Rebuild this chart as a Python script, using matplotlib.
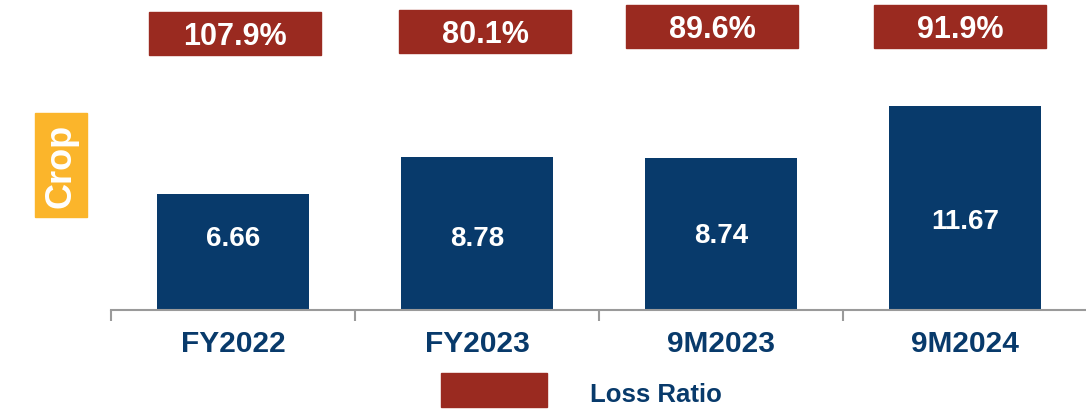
import matplotlib
matplotlib.use("Agg")
import matplotlib.pyplot as plt
from matplotlib.patches import Rectangle

categories = ["FY2022", "FY2023", "9M2023", "9M2024"]
premiums = [6.66, 8.78, 8.74, 11.67]
loss_ratio_labels = ["107.9%", "80.1%", "89.6%", "91.9%"]

NAVY = "#083a6b"
RED = "#9a2a20"
ORANGE = "#fbb52b"
GRAY = "#9a9a9a"

plt.rcParams['font.family'] = ['Liberation Sans', 'DejaVu Sans']

W, H = 1086, 409
fig = plt.figure(figsize=(W / 100, H / 100), dpi=100)
ax = fig.add_axes([111 / W, 99 / H, (1086 - 111) / W, 310 / H])
ax.set_xlim(-0.5, 3.496)
ax.set_ylim(0, 17.77)

# layout tweaks (style, not data)
label_y = [4.05, 4.05, 4.25, 5.03]          # bar value label heights
box_dx = [0.008, 0.033, -0.037, -0.02]       # loss ratio box horizontal offsets
box_bottom = [0.8226, 0.829, 0.845, 0.845]   # loss ratio box bottoms (axes frac)
box_h = 0.1387
box_w = 0.705

x = list(range(len(categories)))
ax.bar(x, premiums, width=0.62, color=NAVY, zorder=2)
for xi, v, ly in zip(x, premiums, label_y):
    ax.text(xi, ly, f"{v:.2f}", ha="center", va="center",
            color="white", fontsize=20, fontweight="bold", zorder=3)

tr = ax.get_xaxis_transform()
for xi, lab, dx, bb in zip(x, loss_ratio_labels, box_dx, box_bottom):
    cx = xi + dx
    ax.add_patch(Rectangle((cx - box_w / 2, bb), box_w, box_h,
                           transform=tr, color=RED, clip_on=False, zorder=3))
    ax.text(cx, bb + box_h / 2 - 0.012, lab, transform=tr, ha="center",
            va="center", color="white", fontsize=22, fontweight="bold", zorder=4)

for s in ["top", "right", "left"]:
    ax.spines[s].set_visible(False)
ax.spines["bottom"].set_color(GRAY)
ax.spines["bottom"].set_linewidth(1.5)
ax.set_yticks([])
ax.set_xticks([-0.5, 0.5, 1.5, 2.5])
ax.set_xticklabels([])
ax.tick_params(axis="x", which="major", length=8, width=1.5, color=GRAY, direction="out")
for xi, c in zip(x, categories):
    ax.text(xi, -0.11, c, transform=tr, ha="center",
            va="center", color=NAVY, fontsize=21.5, fontweight="bold")

# Crop label
fig.patches.append(Rectangle((35 / W, (H - 217) / H), 52 / W, 104 / H,
                             transform=fig.transFigure, color=ORANGE))
fig.text(61 / W, (H - 166) / H, "Crop", rotation=90, ha="center", va="center",
         color="white", fontsize=26, fontweight="bold")

# legend
fig.patches.append(Rectangle((441 / W, (H - 407) / H), 106 / W, 34 / H,
                             transform=fig.transFigure, color=RED))
fig.text(590 / W, (H - 395) / H, "Loss Ratio", ha="left", va="center",
         color=NAVY, fontsize=18.5, fontweight="bold")

fig.savefig("out.png", dpi=100)
